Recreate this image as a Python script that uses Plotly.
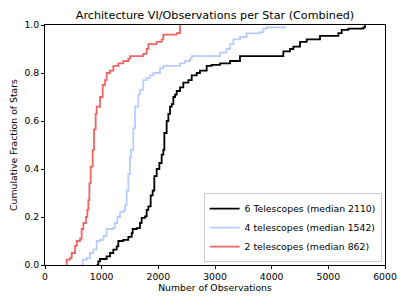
import plotly.graph_objects as go

# Cumulative fraction curves (step knots)
obs6 = [912, 941, 971, 1088, 1147, 1206, 1265, 1294, 1382, 1471, 1530, 1547, 1618, 1676, 1706,
        1765, 1794, 1824, 1865, 1900, 1929, 1971, 2018, 2059, 2088, 2106, 2147, 2177, 2206, 2236,
        2265, 2295, 2324, 2383, 2441, 2530, 2589, 2677, 2735, 2853, 2941, 3089, 3265, 3441, 4177,
        4206, 4324, 4383, 4500, 4618, 4853, 5177, 5236, 5353, 5618, 5648]
frac6 = [0.0, 0.015, 0.025, 0.036, 0.05, 0.064, 0.078, 0.10, 0.105, 0.117, 0.133, 0.15, 0.154,
         0.175, 0.196, 0.203, 0.23, 0.244, 0.29, 0.31, 0.37, 0.40, 0.425, 0.46, 0.48, 0.55, 0.60,
         0.63, 0.66, 0.67, 0.70, 0.71, 0.725, 0.74, 0.76, 0.77, 0.79, 0.80, 0.81, 0.83, 0.834,
         0.84, 0.85, 0.87, 0.87, 0.89, 0.90, 0.91, 0.93, 0.94, 0.955, 0.966, 0.98, 0.985, 0.99, 1.0]

obs4 = [647, 665, 736, 794, 853, 912, 971, 1030, 1088, 1206, 1235, 1277, 1324, 1382, 1412, 1441,
        1471, 1500, 1518, 1559, 1588, 1647, 1676, 1735, 1794, 1853, 1912, 2030, 2088, 2324, 2383,
        2471, 2559, 2589, 3030, 3089, 3206, 3265, 3324, 3441, 3559, 3795, 3853, 3912, 4236]
frac4 = [0.0, 0.022, 0.03, 0.05, 0.065, 0.10, 0.105, 0.12, 0.15, 0.155, 0.175, 0.20, 0.22, 0.225,
         0.25, 0.31, 0.38, 0.45, 0.48, 0.57, 0.66, 0.71, 0.73, 0.77, 0.78, 0.79, 0.80, 0.82, 0.83,
         0.83, 0.84, 0.85, 0.86, 0.87, 0.87, 0.885, 0.90, 0.92, 0.94, 0.95, 0.965, 0.97, 0.985,
         0.99, 0.995]

obs2 = [365, 382, 441, 471, 530, 559, 618, 647, 677, 724, 747, 765, 783, 806, 841, 865, 894, 912,
        971, 1018, 1059, 1088, 1147, 1206, 1294, 1382, 1471, 1500, 1706, 1736, 1794, 1824, 1971,
        2059, 2088, 2324, 2383]
frac2 = [0.0, 0.022, 0.03, 0.05, 0.08, 0.10, 0.11, 0.15, 0.175, 0.20, 0.23, 0.27, 0.34, 0.41,
         0.48, 0.565, 0.63, 0.66, 0.70, 0.75, 0.77, 0.80, 0.81, 0.83, 0.84, 0.85, 0.86, 0.87, 0.87,
         0.88, 0.90, 0.92, 0.93, 0.94, 0.96, 0.966, 1.0]

labels = ["6 Telescopes (median 2110)", "4 telescopes (median 1542)", "2 telescopes (median 862)"]
colors = ["#000000", "#b8ccff", "#f26464"]
xticks = [0, 1000, 2000, 3000, 4000, 5000, 6000]
yticks = [0.0, 0.2, 0.4, 0.6, 0.8, 1.0]

fig = go.Figure()
for xs, ys, lab, col in [(obs6, frac6, labels[0], colors[0]),
                         (obs4, frac4, labels[1], colors[1]),
                         (obs2, frac2, labels[2], colors[2])]:
    fig.add_trace(go.Scatter(x=[xs[0]] + xs, y=[0.0] + ys, mode="lines", line_shape="hv",
                             line=dict(color=col, width=1.8), name=lab, hoverinfo="skip"))

font = "DejaVu Sans"
fs = 9.3
axis_common = dict(showgrid=False, zeroline=False, showline=True, mirror=True, linecolor="black",
                   linewidth=0.8, ticks="outside", ticklen=3, tickwidth=0.8, tickcolor="black",
                   tickfont=dict(size=fs, color="black", family=font), automargin=False)
# The page body adds an 8px offset; size the figure so the plot lands where the reference has it.
W, H = 399, 297
fig.update_layout(
    width=W, height=H,
    margin=dict(l=37, r=22, t=17, b=40),
    paper_bgcolor="white", plot_bgcolor="white",
    font=dict(family=font, size=fs, color="black"),
    title=dict(text="Architecture VI/Observations per Star (Combined)", x=(37 + 170) / W,
               xanchor="center", y=1 - 7 / H, yanchor="middle",
               font=dict(size=11.2, family=font, color="black")),
    xaxis=dict(range=[0, 6000], tickvals=xticks, ticktext=[str(v) for v in xticks],
               title=dict(text="Number of Observations", font=dict(size=fs, family=font), standoff=3),
               **axis_common),
    yaxis=dict(range=[0, 1], tickvals=yticks, ticktext=["%.1f" % v for v in yticks],
               title=dict(text="Cumulative Fraction of Stars", font=dict(size=fs, family=font), standoff=14),
               **axis_common),
    legend=dict(x=0.99, xanchor="right", y=0.012, yanchor="bottom", bgcolor="white",
                bordercolor="#cccccc", borderwidth=1, font=dict(size=fs, family=font),
                tracegroupgap=0, itemwidth=30),
)
fig.write_html("out.html")
